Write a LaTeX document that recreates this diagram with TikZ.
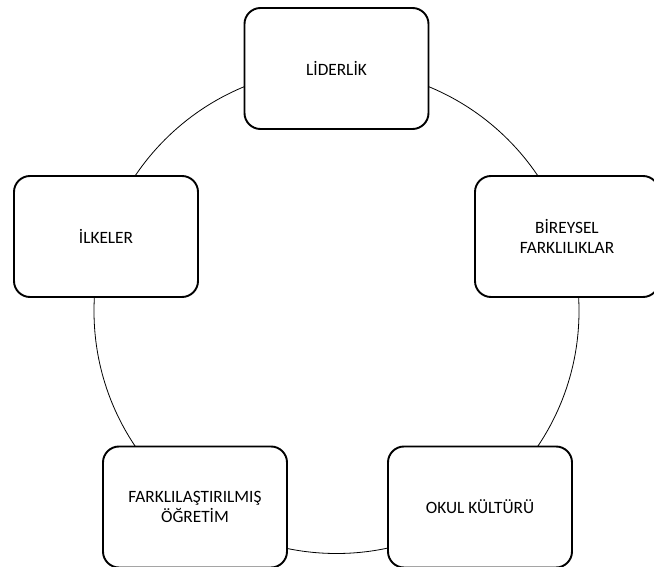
\documentclass[tikz,border=0pt]{standalone}
\usepackage{fontspec}
\setmainfont{Carlito}
\begin{document}
\begin{tikzpicture}[x=1pt,y=-1pt,
  cyclebox/.style={draw=black, line width=1.9pt, fill=white, rounded corners=16pt,
    minimum width=184pt, minimum height=121pt, align=center, inner sep=0pt,
    font=\fontsize{17.3}{20.5}\selectfont, text=black},
  ring/.style={draw=black, line width=0.8pt}]
\clip (0,0) rectangle (654,567);
\fill[white] (0,0) rectangle (654,567);
\coordinate (c) at (336.5,311);
\draw[ring] (c) circle[radius=242.5];
\node[cyclebox] (lid) at (336.5,68.5) {LİDERLİK};
\node[cyclebox] (bir) at (567,236.5) {BİREYSEL\\FARKLILIKLAR};
\node[cyclebox] (okul) at (480,507) {OKUL KÜLTÜRÜ};
\node[cyclebox] (fark) at (195,507) {FARKLILAŞTIRILMIŞ\\ÖĞRETİM};
\node[cyclebox] (ilk) at (106,236.5) {İLKELER};
\end{tikzpicture}
\end{document}
